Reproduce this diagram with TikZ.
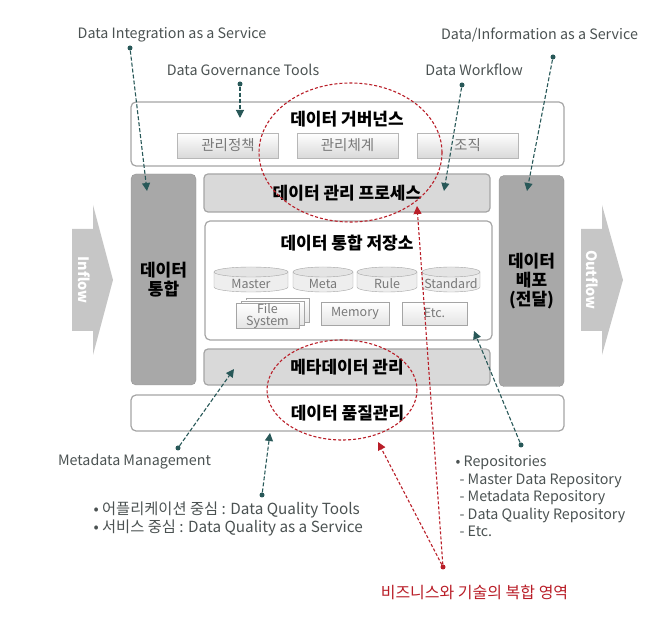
\documentclass[tikz,border=0pt]{standalone}
\usepackage{fontspec}
\setmainfont{Noto Sans CJK KR}
\usetikzlibrary{arrows.meta}
\definecolor{boxline}{RGB}{165,165,165}
\definecolor{darkcol}{RGB}{168,168,168}
\definecolor{lightcol}{RGB}{217,217,217}
\definecolor{flowgray}{RGB}{198,198,198}
\definecolor{tealline}{RGB}{40,88,88}
\definecolor{redline}{RGB}{185,30,40}
\definecolor{notetext}{RGB}{75,82,82}
\definecolor{subtext}{RGB}{120,120,120}
\begin{document}
\begin{tikzpicture}[x=1pt,y=-1pt,
    panel/.style={draw=boxline,line width=1.2pt,rounded corners=5pt,fill=white,inner sep=0pt},
    title/.style={font=\fontsize{17}{20}\selectfont\bfseries},
    subbox/.style={draw=boxline!80,top color=white,bottom color=lightcol,text=subtext,font=\fontsize{14.5}{16}\selectfont,minimum width=101pt,minimum height=25pt,inner sep=0pt},
    column/.style={draw=boxline!90!black,fill=darkcol,rounded corners=5pt,minimum width=65pt,minimum height=211pt,align=center,font=\fontsize{17}{19}\selectfont\bfseries,inner sep=0pt},
    bar/.style={draw=boxline,line width=1.2pt,fill=lightcol,rounded corners=4pt,minimum width=286pt,inner sep=0pt,font=\fontsize{17}{20}\selectfont\bfseries},
    cylline/.style={draw=boxline,fill=lightcol!45},
    cyltext/.style={text=subtext,font=\fontsize{12.5}{14}\selectfont,inner sep=0pt},
    smallbox/.style={draw=boxline,top color=white,bottom color=lightcol!70,text=subtext,font=\fontsize{12.5}{12}\selectfont,align=center,inner sep=0pt},
    note/.style={text=notetext,font=\fontsize{14.3}{18}\selectfont},
    dot/.style={circle,fill=#1,inner sep=0pt,minimum size=5pt},
    tealarr/.style={tealline,line width=1.1pt,dash pattern=on 4pt off 2pt,-{Triangle[length=8pt,width=8pt]}},
    redarr/.style={redline,line width=1.1pt,dash pattern=on 3pt off 2pt,-{Triangle[length=8pt,width=8pt]}}]
\useasboundingbox (0,0) rectangle (665,617);

% inflow / outflow
\fill[flowgray] (72,229) -- (93,229) -- (93,205) -- (113,280) -- (93,355) -- (93,331) -- (72,331) -- cycle;
\fill[flowgray] (581,229) -- (602,229) -- (602,205) -- (623,280) -- (602,355) -- (602,331) -- (581,331) -- cycle;
\node[white,rotate=-90,font=\fontsize{14.4}{15}\selectfont\bfseries] (inflow) at (84,280) {Inflow};
\node[white,rotate=-90,font=\fontsize{14.4}{15}\selectfont\bfseries] (outflow) at (592,280) {Outflow};

% governance
\node[panel,minimum width=433pt,minimum height=64pt] (gov) at (347.5,134) {};
\node[title] (govtitle) at (347,119) {데이터 거버넌스};
\node[subbox] (policy) at (228,145.5) {관리정책};
\node[subbox] (system) at (347.5,145.5) {관리체계};
\node[subbox] (org) at (467.5,145.5) {조직};

\node[column] (integ) at (163.5,279.5) {데이터\\통합};
\node[column] (distr) at (531.5,281) {데이터\\배포\\(전달)};
\node[bar,minimum height=38pt] (proc) at (347,193) {데이터 관리 프로세스};

% repository
\node[panel,minimum width=287pt,minimum height=119pt] (repo) at (348.5,280.5) {};
\node[title] (repotitle) at (347,243) {데이터 통합 저장소};
\foreach \n/\x/\w/\t in {master/251/74/Master,metadb/323/60/Meta,rule/387/60/Rule,standard/451/58/Standard} {
    \draw[cylline] (\x-\w/2,272) -- (\x-\w/2,287) arc[start angle=180,end angle=0,x radius=\w/2,y radius=5] -- (\x+\w/2,272);
    \draw[cylline,fill=lightcol!70] (\x,272) ellipse [x radius=\w/2,y radius=5];
    \node[cyltext] (\n) at (\x,284) {\t};
}
\node[smallbox,minimum width=63pt,minimum height=24pt] (fs3) at (277.5,310) {};
\node[smallbox,minimum width=63pt,minimum height=24pt] (fs2) at (272.5,313) {};
\node[smallbox,minimum width=63pt,minimum height=24pt] (fs1) at (267.5,316) {File\\System};
\node[smallbox,minimum width=68pt,minimum height=23pt] (memory) at (355,313.5) {Memory};
\node[smallbox,minimum width=65pt,minimum height=23pt] (etc) at (434.5,313.5) {Etc.};

\node[bar,minimum height=36pt] (meta) at (347,367) {메타데이터 관리};
\node[panel,minimum width=433pt,minimum height=36pt,font=\fontsize{17}{20}\selectfont\bfseries] (dq) at (347.5,413) {데이터 품질관리};

% labels
\node[note] (diaas) at (172,35) {Data Integration as a Service};
\node[note] (dgt) at (243,70) {Data Governance Tools};
\node[note] (dwf) at (474,70) {Data Workflow};
\node[note] (dinfo) at (539.5,35) {Data/Information as a Service};
\node[note] (mdm) at (134.5,462) {Metadata Management};
\node[note,font=\fontsize{15.3}{18}\selectfont,anchor=west,align=left] (dqt) at (90,519) {• 어플리케이션 중심 : Data Quality Tools\\• 서비스 중심 : Data Quality as a Service};
\node[note,font=\fontsize{14.3}{17.5}\selectfont,anchor=north west,align=left] (repos) at (452,452) {• Repositories\\\hspace*{4pt}- Master Data Repository\\\hspace*{4pt}- Metadata Repository\\\hspace*{4pt}- Data Quality Repository\\\hspace*{4pt}- Etc.};
\node[text=redline,font=\fontsize{16}{18}\selectfont] (mix) at (474.5,592) {비즈니스와 기술의 복합 영역};

% pointers
\node[dot=tealline] (d1) at (130,48) {};
\node[dot=tealline] (d2) at (240,84) {};
\node[dot=tealline] (d3) at (462,85) {};
\node[dot=tealline] (d4) at (553,57) {};
\node[dot=tealline] (d5) at (178,448) {};
\node[dot=tealline] (d6) at (262,495) {};
\node[dot=tealline] (d7) at (521,445) {};
\coordinate (t1) at (147,191);
\coordinate (t2) at (240,118);
\coordinate (t3) at (444,191);
\coordinate (t4) at (527,191);
\coordinate (t5) at (234,369);
\coordinate (t6) at (270,433);
\coordinate (t7) at (474,331);
\foreach \i in {1,...,7}
    \draw[tealarr] (d\i) -- (t\i);

\draw[redline,line width=1.1pt,dash pattern=on 3pt off 2pt] (350.5,152.5) ellipse [x radius=91.5,y radius=69.5];
\draw[redline,line width=1.1pt,dash pattern=on 3pt off 2pt] (342,390) ellipse [x radius=75,y radius=50];
\node[dot=redline] (r) at (443,567) {};
\coordinate (rtop) at (417,206);
\coordinate (rlow) at (378,442);
\draw[redarr] (r) -- (rtop);
\draw[redarr] (r) -- (rlow);
\end{tikzpicture}
\end{document}
